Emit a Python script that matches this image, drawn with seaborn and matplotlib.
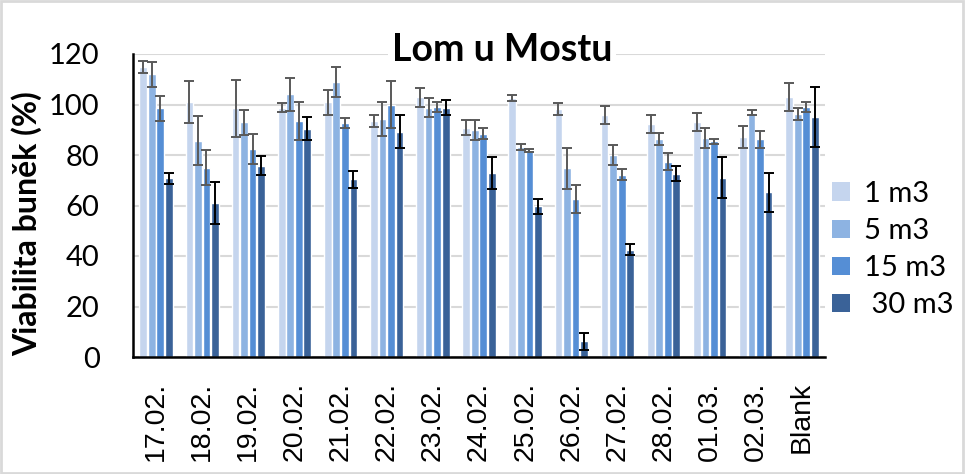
import numpy as np
import pandas as pd
import seaborn as sns
import matplotlib
matplotlib.use("Agg")
import matplotlib.pyplot as plt
from matplotlib.patches import Rectangle, Patch

dates = ["17.02.", "18.02.", "19.02.", "20.02.", "21.02.", "22.02.", "23.02.",
         "24.02.", "25.02.", "26.02.", "27.02.", "28.02.", "01.03.", "02.03.", "Blank"]
series = ["1 m3", "5 m3", "15 m3", " 30 m3"]
yticks = [0, 20, 40, 60, 80, 100, 120]

v_1m3 = [115, 101, 98.5, 98.8, 100.8, 93.3, 102.8, 90.8, 102.4, 98.2, 96, 92.2, 93, 87, 103]
v_5m3 = [112, 85.7, 93, 104, 109, 94.3, 98.8, 90, 83.2, 74.7, 79.9, 86.2, 86.6, 96.7, 96.2]
v_15m3 = [98.5, 75, 82.4, 93.4, 92.8, 100, 99, 88.5, 81.8, 62.5, 72.2, 77.4, 85.4, 86.2, 99]
v_30m3 = [70.7, 61, 75.8, 90.4, 70.4, 89.3, 98.7, 72.8, 59.7, 6.3, 42.4, 72.6, 71, 65.2, 95]

e_1m3 = [2.4, 8.4, 11.4, 1.8, 5, 2.4, 3.8, 3, 1.2, 2.4, 3.6, 3.5, 3.6, 4.4, 5.4]
e_5m3 = [5, 9.7, 5, 6.4, 6, 6.6, 3.8, 4, 1.3, 8, 4, 2.4, 4, 1, 2.4]
e_15m3 = [5, 7, 6, 7.6, 2, 9.2, 2, 2, 0.7, 5.6, 2.2, 3.4, 0.9, 3.3, 1.8]
e_30m3 = [2, 8.2, 3.9, 4.6, 3.3, 6.4, 3, 6.4, 2.9, 3.4, 2.2, 3, 8.2, 7.7, 11.8]

title = "Lom u Mostu"
ylabel = "Viabilita buněk (%)"
colors = ["#C5D5EE", "#8DB3E2", "#558ED5", "#3A6298"]
err_colors = ["#595959", "#595959", "#595959", "#000000"]

values = [v_1m3, v_5m3, v_15m3, v_30m3]
errors = [e_1m3, e_5m3, e_15m3, e_30m3]

df = pd.DataFrame({
    "date": dates * len(series),
    "series": [s for s in series for _ in dates],
    "value": [v for vals in values for v in vals],
})

sns.set_theme(style="white")
plt.rcParams["font.family"] = ["Lato", "DejaVu Sans"]

fig = plt.figure(figsize=(9.65, 4.74), dpi=100)
ax = fig.add_axes([133 / 965, 1 - 357 / 474, (825 - 133) / 965, (357 - 54) / 474])

sns.barplot(data=df, x="date", y="value", hue="series", order=dates, hue_order=series,
            palette=colors, saturation=1, errorbar=None, width=0.74, gap=0.1,
            legend=False, ax=ax, zorder=2)

for cont, errs, vals, ec in zip(ax.containers, errors, values, err_colors):
    xs = [b.get_x() + b.get_width() / 2 for b in cont]
    ax.errorbar(xs, vals, yerr=errs, fmt="none", ecolor=ec, elinewidth=1.4,
                capsize=3.4, capthick=1.4, zorder=3)

ax.tick_params(axis="y", length=0, pad=24)
ax.tick_params(axis="x", length=0, pad=18)
ax.set_ylim(0, 120)
ax.set_xlim(-0.5, len(dates) - 0.5)
ax.set_yticks(yticks, [str(t) for t in yticks])
ax.set_xticks(range(len(dates)), dates)
ax.yaxis.grid(True, color="#D9D9D9", linewidth=1.5, zorder=0)
ax.set_axisbelow(True)
ax.set_xlabel("")
ax.set_ylabel("")
for s in ["top", "right"]:
    ax.spines[s].set_visible(False)
for s in ["left", "bottom"]:
    ax.spines[s].set_color("black")
    ax.spines[s].set_linewidth(1.8)

fig.text(502 / 965, 1 - 50 / 474, title, ha="center", va="center", fontsize=27,
         fontweight="bold", family=["Lato", "DejaVu Sans"], color="black",
         bbox=dict(facecolor="white", edgecolor="none", pad=3))
fig.text(27 / 965, 1 - 224 / 474, ylabel, ha="center", va="center", rotation=90,
         fontsize=23, fontweight="bold", family=["Lato", "DejaVu Sans"], color="black")

handles = [Patch(facecolor=c, edgecolor="none") for c in colors]
leg = fig.legend(handles, series, loc="upper left", bbox_to_anchor=(832 / 965, 1 - 181 / 474),
                 frameon=False, fontsize=21, handlelength=0.6, handleheight=0.6,
                 handletextpad=0.5, labelspacing=0.38, borderaxespad=0, borderpad=0)
for t in leg.get_texts():
    t.set_color("black")

fig.patches.append(Rectangle((0.001, 0.002), 0.997, 0.995, transform=fig.transFigure,
                             fill=False, edgecolor="#D9D9D9", linewidth=2))

# final font styling of tick labels (applied right before saving)
fig.canvas.draw()
for lab in ax.get_xticklabels():
    lab.set_fontfamily(["Liberation Sans", "DejaVu Sans"])
    lab.set_fontsize(20.5)
    lab.set_rotation(90)
    lab.set_color("black")
for lab in ax.get_yticklabels():
    lab.set_fontfamily(["Lato", "DejaVu Sans"])
    lab.set_fontsize(21)
    lab.set_color("black")

fig.savefig("out.png", dpi=100)
